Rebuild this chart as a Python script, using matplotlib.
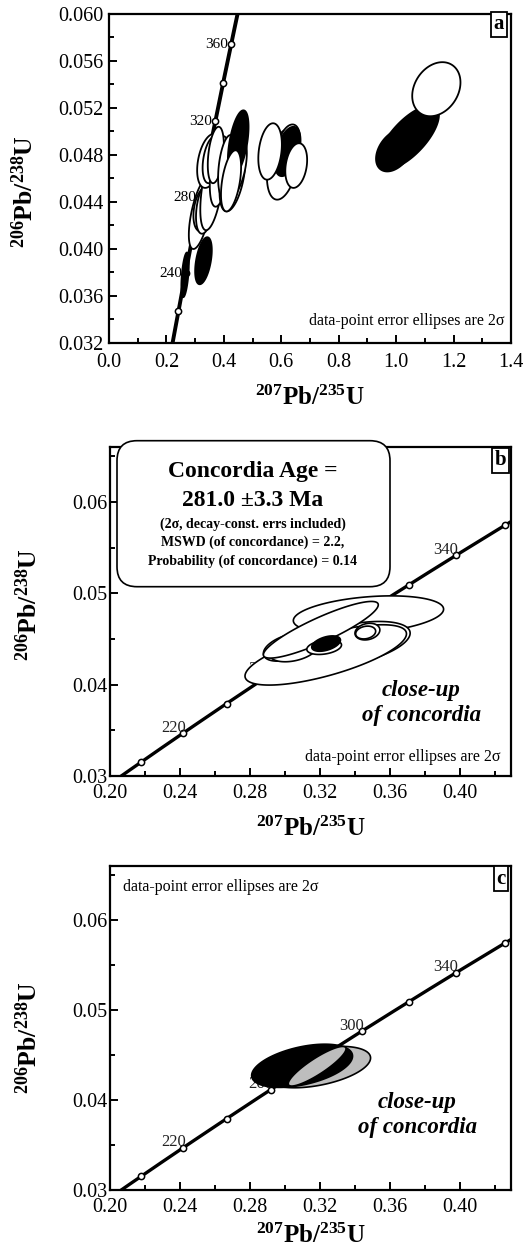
import numpy as np
import matplotlib
matplotlib.use('Agg')
import matplotlib.pyplot as plt
from matplotlib.patches import FancyBboxPatch
from matplotlib.ticker import MultipleLocator, FormatStrFormatter

plt.rcParams['font.family'] = ['Liberation Serif', 'DejaVu Serif']
plt.rcParams['mathtext.fontset'] = 'custom'
plt.rcParams['mathtext.rm'] = 'Liberation Serif'
plt.rcParams['mathtext.bf'] = 'Liberation Serif:bold'
plt.rcParams['mathtext.it'] = 'Liberation Serif:italic'

# decay constants (1/yr) for the concordia curve
L238 = 1.55125e-10
L235 = 9.8485e-10
ages = [200, 220, 240, 260, 280, 300, 320, 340, 360, 380, 400, 420, 440]
labels_a = [240, 280, 320, 360]
labels_bc = [220, 260, 300, 340]

# ellipses: centre x, centre y, half-extent x, half-extent y, correlation, fill
a_cx = [0.318, 0.329, 0.335, 0.358, 0.350, 0.358, 0.385, 0.372, 0.430, 0.440, 0.412, 0.450, 0.425,
        0.329, 0.265, 0.605, 0.625, 0.622, 0.561, 0.652, 1.044, 0.995, 1.140]
a_cy = [0.0430, 0.0434, 0.0435, 0.0451, 0.0475, 0.0476, 0.0466, 0.0480, 0.0462, 0.0470, 0.0470, 0.0490,
        0.0458, 0.0390, 0.0378, 0.0472, 0.0488, 0.0483, 0.0483, 0.0471, 0.0495, 0.0484, 0.0536]
a_hx = [0.040, 0.035, 0.032, 0.040, 0.043, 0.032, 0.034, 0.028, 0.045, 0.040, 0.032, 0.036, 0.035,
        0.029, 0.013, 0.055, 0.040, 0.045, 0.041, 0.038, 0.105, 0.065, 0.084]
a_hy = [0.0030, 0.0019, 0.0022, 0.0035, 0.0023, 0.0020, 0.0030, 0.0024, 0.0030, 0.0026, 0.0027, 0.0028,
        0.0026, 0.0020, 0.0019, 0.0030, 0.0018, 0.0021, 0.0024, 0.0019, 0.0027, 0.0018, 0.0023]
a_rho = [0.6, 0.3, 0.35, 0.5, 0.35, 0.35, 0.4, 0.35, 0.45, 0.45, 0.35, 0.5, 0.45,
         0.45, 0.5, 0.35, 0.35, 0.45, 0.25, 0.25, 0.7, 0.4, 0.25]
a_fill = ['w', 'w', 'w', 'w', 'w', 'w', 'w', 'w', 'w', 'w', 'w', 'k', 'w',
          'k', 'k', 'w', 'w', 'k', 'w', 'w', 'k', 'k', 'w']

b_cx = [0.3476, 0.3362, 0.3232, 0.3019, 0.3048, 0.3470, 0.3460, 0.3204, 0.3223, 0.3234]
b_cy = [0.04763, 0.04435, 0.04325, 0.0441, 0.0438, 0.0458, 0.0457, 0.0460, 0.0441, 0.04449]
b_hx = [0.0429, 0.0352, 0.0461, 0.0143, 0.0138, 0.0071, 0.0057, 0.0328, 0.0099, 0.0082]
b_hy = [0.00208, 0.00256, 0.0033, 0.00153, 0.0013, 0.00091, 0.0007, 0.0031, 0.0008, 0.00084]
b_rho = [0.3, 0.5, 0.7, 0.45, 0.35, 0.2, 0.2, 0.88, 0.3, 0.45]
b_fill = ['w', 'w', 'w', 'w', 'w', 'w', 'w', 'w', 'w', 'k']

c_cx = [0.3186, 0.3097, 0.3183]
c_cy = [0.04366, 0.0438, 0.04375]
c_hx = [0.0302, 0.0288, 0.0165]
c_hy = [0.0023, 0.0024, 0.0022]
c_rho = [0.44, 0.45, 0.88]
c_fill = ['#bdbdbd', 'k', '#bdbdbd']

xlab = r'$^{\mathbf{207}}\mathbf{Pb/}^{\mathbf{235}}\mathbf{U}$'
ylab = r'$^{\mathbf{206}}\mathbf{Pb/}^{\mathbf{238}}\mathbf{U}$'
note = 'data-point error ellipses are 2σ'


def ellipses(ax, cx, cy, hx, hy, rho, fill, lw):
    t = np.linspace(0, 2 * np.pi, 240)
    for x0, y0, a, b, r, c in zip(cx, cy, hx, hy, rho, fill):
        xs = x0 + a * np.cos(t)
        ys = y0 + b * (r * np.cos(t) + np.sqrt(1 - r * r) * np.sin(t))
        ax.fill(xs, ys, facecolor=c, edgecolor='black', lw=lw, zorder=3)


def concordia(ax, lab_ages, lw, fs, steep):
    t = np.linspace(150, 460, 500) * 1e6
    ax.plot(np.expm1(L235 * t), np.expm1(L238 * t), color='black', lw=lw, zorder=1)
    ta = np.array(ages) * 1e6
    ax.plot(np.expm1(L235 * ta), np.expm1(L238 * ta), 'o', ms=4.5, mfc='white', mec='black',
            mew=1.1, zorder=2)
    for age in lab_ages:
        x, y = np.expm1(L235 * age * 1e6), np.expm1(L238 * age * 1e6)
        if steep:
            ax.annotate(str(age), (x, y), xytext=(-2.5, 0), textcoords='offset points',
                        ha='right', va='center', fontsize=fs, zorder=2)
        else:
            ax.annotate(str(age), (x, y), xytext=(1.5, -2), textcoords='offset points',
                        ha='right', va='bottom', fontsize=fs, zorder=2, color='#222222')


def style(ax, xmaj, xmin, ymaj, ymin, xfmt, yfmt, xpad, ypad):
    ax.xaxis.set_major_locator(MultipleLocator(xmaj))
    ax.xaxis.set_minor_locator(MultipleLocator(xmin))
    ax.yaxis.set_major_locator(MultipleLocator(ymaj))
    ax.yaxis.set_minor_locator(MultipleLocator(ymin))
    ax.xaxis.set_major_formatter(FormatStrFormatter(xfmt))
    ax.yaxis.set_major_formatter(FormatStrFormatter(yfmt))
    ax.tick_params(which='both', direction='in', top=False, right=False, width=1.4)
    ax.tick_params(which='major', length=5.5)
    ax.tick_params(which='minor', length=3.5)
    ax.tick_params(axis='x', labelsize=14.5, pad=xpad)
    ax.tick_params(axis='y', labelsize=14.5, pad=ypad)
    for s in ax.spines.values():
        s.set_linewidth(1.6)


def letter(ax, s, x, y):
    ax.text(x, y, s, transform=ax.transAxes, ha='center', va='center', fontsize=15,
            fontweight='bold', zorder=10,
            bbox=dict(boxstyle='square,pad=0.12', fc='white', ec='black', lw=1.3))


fig = plt.figure(figsize=(5.26, 12.51), dpi=100)
W, H = 526.0, 1251.0

# panel a
axa = fig.add_axes([109 / W, 1 - 343 / H, 402 / W, 329 / H])
concordia(axa, labels_a, 2.8, 11, True)
ellipses(axa, a_cx, a_cy, a_hx, a_hy, a_rho, a_fill, 1.3)
axa.set_xlim(0, 1.4)
axa.set_ylim(0.032, 0.060)
style(axa, 0.2, 0.1, 0.004, 0.002, '%.1f', '%.3f', 7, 4)
axa.text(0.985, 0.067, note, transform=axa.transAxes, ha='right', va='center', fontsize=11.5)
letter(axa, 'a', 0.97, 0.969)
axa.set_xlabel(xlab, fontsize=18, va='center')
axa.xaxis.set_label_coords(0.5, -0.167)
axa.set_ylabel(ylab, fontsize=18.5, va='center')
axa.yaxis.set_label_coords(-0.209, 0.46)

# panel b
axb = fig.add_axes([110 / W, 1 - 776 / H, 401 / W, 329 / H])
concordia(axb, labels_bc, 2.4, 12, False)
ellipses(axb, b_cx, b_cy, b_hx, b_hy, b_rho, b_fill, 1.2)
axb.set_xlim(0.20, 0.429)
axb.set_ylim(0.03, 0.066)
style(axb, 0.04, 0.02, 0.01, 0.005, '%.2f', '%.2f', 5.5, 2)
axb.text(0.973, 0.057, note, transform=axb.transAxes, ha='right', va='center', fontsize=11.5)
axb.text(0.777, 0.222, 'close-up\nof concordia', transform=axb.transAxes, ha='center',
         va='center', fontsize=16.5, fontweight='bold', style='italic', linespacing=1.25)
letter(axb, 'b', 0.974, 0.96)
axb.set_xlabel(xlab, fontsize=18, va='center')
axb.xaxis.set_label_coords(0.5, -0.16)
axb.set_ylabel(ylab, fontsize=18.5, va='center')
axb.yaxis.set_label_coords(-0.204, 0.52)

box = FancyBboxPatch((1.17, (H - 586.7) / 100), 2.73, 1.46,
                     boxstyle='round,pad=0,rounding_size=0.2',
                     transform=fig.dpi_scale_trans, fc='white', ec='black', lw=1.2, zorder=20)
fig.add_artist(box)
bx = 253 / W
fig.text(bx, 1 - 471.7 / H, 'Concordia Age =', ha='center', va='center', fontsize=17,
         fontweight='bold', zorder=21)
fig.text(bx, 1 - 500 / H, '281.0 ±3.3 Ma', ha='center', va='center', fontsize=17,
         fontweight='bold', zorder=21)
fig.text(bx, 1 - 524 / H, '(2σ, decay-const. errs included)', ha='center', va='center',
         fontsize=10, fontweight='bold', zorder=21)
fig.text(bx, 1 - 542.7 / H, 'MSWD (of concordance) = 2.2,', ha='center', va='center',
         fontsize=10, fontweight='bold', zorder=21)
fig.text(bx, 1 - 561 / H, 'Probability (of concordance) = 0.14', ha='center', va='center',
         fontsize=10, fontweight='bold', zorder=21)

# panel c
axc = fig.add_axes([110 / W, 1 - 1190 / H, 401 / W, 324 / H])
concordia(axc, labels_bc, 2.4, 12, False)
ellipses(axc, c_cx, c_cy, c_hx, c_hy, c_rho, c_fill, 1.2)
axc.set_xlim(0.20, 0.429)
axc.set_ylim(0.03, 0.066)
style(axc, 0.04, 0.02, 0.01, 0.005, '%.2f', '%.2f', 6, 2)
axc.text(0.032, 0.936, note, transform=axc.transAxes, ha='left', va='center', fontsize=11.5)
axc.text(0.766, 0.231, 'close-up\nof concordia', transform=axc.transAxes, ha='center',
         va='center', fontsize=16.5, fontweight='bold', style='italic', linespacing=1.25)
letter(axc, 'c', 0.975, 0.96)
axc.set_xlabel(xlab, fontsize=18, va='center')
axc.xaxis.set_label_coords(0.5, -0.142)
axc.set_ylabel(ylab, fontsize=18.5, va='center')
axc.yaxis.set_label_coords(-0.204, 0.47)

fig.savefig('out.png', dpi=100)
